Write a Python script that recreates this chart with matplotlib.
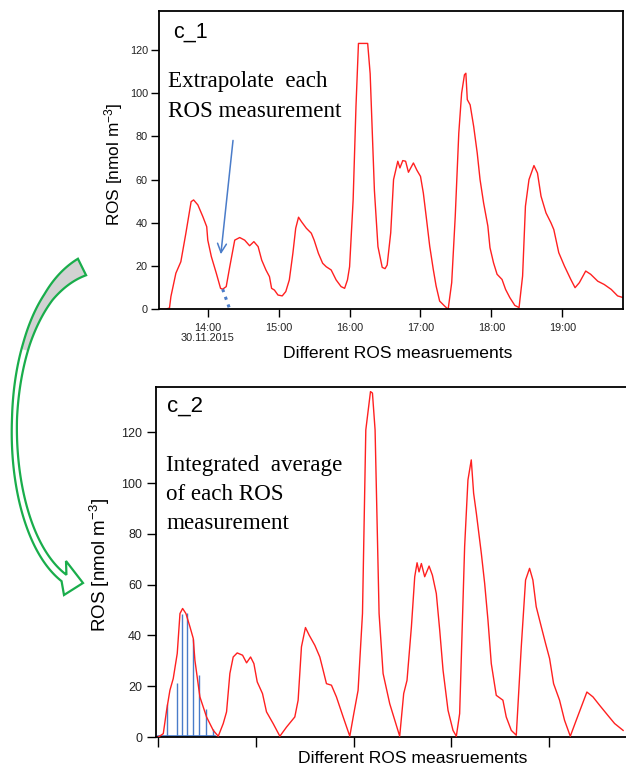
import numpy as np
import matplotlib.pyplot as plt
from matplotlib.patches import Polygon

W, H = 626, 767
plt.rcParams['font.family'] = ['Liberation Sans', 'DejaVu Sans']
plt.rcParams['mathtext.fontset'] = 'custom'
plt.rcParams['mathtext.rm'] = 'Liberation Sans'
plt.rcParams['mathtext.it'] = 'Liberation Sans:italic'

RED = '#ff2020'
BLUE = '#4a7cc9'
GREEN = '#19ad4b'
TXT = '#222222'

# c_1: ROS time series (decimal hours, 30.11.2015)
top_hours = np.array([
    13.33, 13.40, 13.46, 13.48, 13.55, 13.62, 13.69, 13.765, 13.80, 13.86,
    13.93, 13.985, 14.0, 14.05, 14.12, 14.18, 14.21, 14.26, 14.31, 14.38,
    14.45, 14.52, 14.59, 14.65, 14.71, 14.76, 14.82, 14.87, 14.90, 14.94,
    14.99, 15.05, 15.10, 15.15, 15.20, 15.24, 15.28, 15.32, 15.39, 15.46,
    15.50, 15.56, 15.62, 15.67, 15.74, 15.81, 15.88, 15.93, 15.97, 16.0,
    16.05, 16.09, 16.125, 16.255, 16.29, 16.35, 16.40, 16.46, 16.50, 16.53,
    16.58, 16.62, 16.68, 16.71, 16.75, 16.79, 16.83, 16.90, 16.95, 17.0,
    17.04, 17.08, 17.13, 17.18, 17.22, 17.27, 17.34, 17.39, 17.44, 17.49,
    17.54, 17.58, 17.62, 17.64, 17.66, 17.70, 17.75, 17.80, 17.84, 17.89,
    17.95, 17.98, 18.03, 18.08, 18.15, 18.20, 18.26, 18.33, 18.39, 18.44,
    18.48, 18.53, 18.60, 18.65, 18.70, 18.77, 18.84, 18.88, 18.95, 19.03,
    19.12, 19.18, 19.24, 19.33, 19.40, 19.50, 19.59, 19.69, 19.78, 19.86])
top_ros = np.array([
    0.0, 0.0, 0.6, 5.9, 16.7, 22.0, 35.0, 49.8, 50.6, 48.3,
    42.9, 38.2, 32.0, 24.4, 16.7, 9.7, 9.3, 10.5, 19.7, 32.0,
    33.2, 32.0, 29.4, 31.3, 29.0, 22.8, 18.2, 15.1, 9.7, 8.9,
    6.6, 6.2, 8.2, 13.6, 25.9, 37.5, 42.6, 40.6, 37.5, 35.2,
    32.0, 25.9, 21.3, 19.7, 18.2, 13.6, 10.5, 9.7, 13.6, 19.7,
    50.6, 93.8, 123.0, 123.0, 109.0, 55.0, 29.0, 19.4, 18.8, 20.5,
    35.4, 60.0, 68.5, 65.4, 68.8, 68.5, 63.4, 67.7, 64.3, 61.5,
    53.8, 43.0, 29.2, 18.5, 10.8, 3.8, 1.5, 0.0, 12.3, 43.0,
    81.5, 100.0, 108.5, 109.2, 97.0, 94.6, 84.6, 72.3, 60.0, 49.2,
    38.5, 28.5, 21.5, 16.2, 13.8, 9.2, 5.4, 1.8, 0.8, 15.4,
    47.7, 60.0, 66.5, 63.0, 52.3, 44.6, 40.0, 36.9, 26.2, 20.0,
    13.8, 10.0, 12.3, 17.7, 16.2, 13.0, 11.5, 9.2, 6.2, 5.4])

top_ticks = [14, 15, 16, 17, 18, 19]
top_tick_labels = ['14:00\n30.11.2015', '15:00', '16:00', '17:00', '18:00', '19:00']

# extrapolated tail of the first measurement
extrap_hours = [14.21, 14.31]
extrap_ros = [9.3, 0.0]

# c_2: the same measurements, valleys extrapolated to zero
bot_idx = np.array([
    0.0, 5.1, 8.5, 11.9, 15.3, 19.4, 22.2, 24.9, 28.3, 32.4,
    35.8, 37.5, 42.6, 49.4, 56.3, 61.4, 66.5, 69.9, 73.3, 76.7,
    80.8, 86.3, 90.4, 94.5, 97.9, 101.3, 106.7, 110.8, 117.6, 124.5,
    131.3, 139.8, 143.2, 146.6, 150.7, 154.5, 160.3, 165.4, 168.8, 172.2,
    177.3, 182.4, 189.3, 196.1, 200.2, 204.6, 209.1, 212.5, 217.3, 219.3,
    222.0, 226.1, 230.2, 237.0, 247.2, 251.3, 254.7, 259.2, 262.6, 265.0,
    267.0, 269.4, 272.8, 277.3, 280.7, 284.7, 288.2, 291.6, 296.7, 301.8,
    305.2, 308.6, 313.7, 317.1, 320.5, 322.9, 325.7, 330.8, 334.2, 337.6,
    341.0, 346.1, 352.9, 356.3, 361.5, 366.6, 371.7, 376.1, 380.2, 383.6,
    387.0, 392.2, 396.6, 400.7, 404.8, 410.9, 416.0, 421.9, 428.0, 438.9,
    445.1, 451.9, 460.4, 467.3, 476.0])
bot_ros = np.array([
    0.0, 1.3, 10.5, 18.4, 23.0, 32.9, 48.6, 50.6, 48.6, 43.4,
    38.8, 30.2, 15.8, 7.9, 2.6, 0.3, 5.3, 9.9, 25.0, 31.5,
    33.1, 32.2, 29.2, 31.5, 28.9, 21.7, 17.1, 9.9, 5.3, 0.3,
    3.9, 7.9, 14.5, 35.5, 43.1, 40.1, 36.1, 31.5, 26.3, 21.0,
    20.4, 15.8, 7.9, 0.3, 9.2, 18.4, 48.6, 120.9, 136.0, 135.4,
    120.9, 48.6, 25.0, 13.1, 0.3, 17.1, 22.3, 43.4, 63.1, 68.6,
    65.0, 68.3, 63.1, 67.3, 63.7, 56.5, 42.0, 26.3, 10.5, 2.6,
    0.3, 9.2, 74.9, 101.2, 109.1, 96.0, 88.1, 72.3, 60.5, 46.0,
    28.9, 16.4, 14.5, 7.9, 2.6, 0.7, 35.5, 61.8, 66.4, 61.8,
    51.3, 43.4, 36.8, 30.9, 21.0, 14.5, 6.6, 0.3, 6.6, 17.7,
    15.8, 12.5, 8.5, 5.3, 2.6])

# integration strips under the first peak
strip_idx = [9.2, 18.8, 23.9, 29.0, 35.5, 41.9, 48.8, 55.7]
strip_ros = [13.1, 21.4, 48.6, 49.0, 38.7, 24.3, 11.2, 3.3]

yticks = [0, 20, 40, 60, 80, 100, 120]

fig = plt.figure(figsize=(W / 100, H / 100), dpi=100)


def px(x, y):
    return x / W, 1 - y / H


# ---- c_1 ----
ax1 = fig.add_axes([159 / W, 1 - 309.3 / H, (623 - 159) / W, (309.3 - 11) / H])
ax1.plot(top_hours, top_ros, color=RED, lw=1.0)
ax1.plot(extrap_hours, extrap_ros, color=BLUE, lw=2.2, ls=':')
ax1.annotate('', xy=(14.18, 24.2), xytext=(14.36, 79.4),
             arrowprops=dict(arrowstyle='->', color=BLUE, lw=1.1, mutation_scale=16))
ax1.set_xlim(13.312, 19.856)
ax1.set_ylim(0, 138)
ax1.set_xticks(top_ticks)
ax1.set_xticklabels(top_tick_labels, linespacing=1.0)
ax1.set_yticks(yticks)
ax1.tick_params(direction='out', length=5.5, width=1.0, labelsize=7.8,
                labelcolor=TXT, pad=2.5)
ax1.tick_params(axis='x', pad=4.5)
for s in ax1.spines.values():
    s.set_linewidth(1.3)

fig.text(*px(173, 37.3), 'c_1', fontsize=15.5, va='baseline')
fig.text(*px(168, 87.3), 'Extrapolate  each', family='Liberation Serif',
         fontsize=16.6, va='baseline')
fig.text(*px(168, 116.7), 'ROS measurement', family='Liberation Serif',
         fontsize=16.6, va='baseline')
fig.text(*px(114, 164), 'ROS [nmol m$^{-3}$]', rotation=90, ha='center',
         va='center', fontsize=12.4)
fig.text(*px(398, 358), 'Different ROS measruements', ha='center',
         va='baseline', fontsize=12.6)

# ---- c_2 ----
ax2 = fig.add_axes([156 / W, 1 - 737 / H, (628 - 156) / W, (737 - 387) / H])
ax2.plot(bot_idx, bot_ros, color=RED, lw=1.0, zorder=3)
ax2.vlines(strip_idx, 0, strip_ros, color=BLUE, lw=1.0, zorder=2)
ax2.plot([0, 58], [0.3, 0.3], color=BLUE, lw=1.2, zorder=2)
ax2.set_xlim(-2.35, 481)
ax2.set_ylim(0, 137.8)
ax2.set_xticks([0, 100, 200, 300, 400])
ax2.set_xticklabels([])
ax2.set_yticks(yticks)
ax2.tick_params(axis='y', direction='out', length=6.5, width=1.0, labelsize=9,
                labelcolor=TXT, pad=3.5)
ax2.tick_params(axis='x', direction='out', length=7.2, width=1.0)
for s in ax2.spines.values():
    s.set_linewidth(1.3)

fig.text(*px(167, 411.7), 'c_2', fontsize=16, va='baseline')
for txt, yb in zip(['Integrated  average', 'of each ROS', 'measurement'],
                   [470.7, 500, 529]):
    fig.text(*px(166, yb), txt, family='Liberation Serif', fontsize=16.6,
             va='baseline')
fig.text(*px(100, 565), 'ROS [nmol m$^{-3}$]', rotation=90, ha='center',
         va='center', fontsize=13.5)
fig.text(*px(413, 763), 'Different ROS measruements', ha='center',
         va='baseline', fontsize=12.6)

# ---- curved block arrow linking the two panels ----
P0, P1, P2, P3 = (np.array(p, float) for p in
                  [(82, 267), (-5, 310), (-5, 525), (64, 578)])
t = np.linspace(0, 1, 120)[:, None]
cen = (1 - t) ** 3 * P0 + 3 * (1 - t) ** 2 * t * P1 + 3 * (1 - t) * t ** 2 * P2 + t ** 3 * P3
der = 3 * (1 - t) ** 2 * (P1 - P0) + 6 * (1 - t) * t * (P2 - P1) + 3 * t ** 2 * (P3 - P2)
nrm = np.column_stack([-der[:, 1], der[:, 0]])
nrm /= np.linalg.norm(nrm, axis=1)[:, None]
hw = np.interp(t[:, 0], [0, 0.15, 0.3, 0.5, 0.8, 1.0], [9.2, 5.0, 3.4, 2.5, 3.3, 4.0])[:, None]
outer = cen + hw * nrm
inner = cen - hw * nrm
head = [P3 + (0, 17), P3 + (19, 5), P3 + (2, -17)]

to_fig = lambda pts: np.column_stack([np.asarray(pts)[:, 0] / W, 1 - np.asarray(pts)[:, 1] / H])
gray = t[:, 0] <= 0.32
fig.add_artist(Polygon(to_fig(np.vstack([outer[gray], inner[gray][::-1]])),
                       closed=True, transform=fig.transFigure, facecolor='#d2d2d2',
                       edgecolor='none'))
fig.add_artist(Polygon(to_fig(np.vstack([outer, head, inner[::-1]])), closed=True,
                       transform=fig.transFigure, facecolor='none',
                       edgecolor=GREEN, lw=1.6, joinstyle='miter'))

fig.savefig('out.png', dpi=100)
